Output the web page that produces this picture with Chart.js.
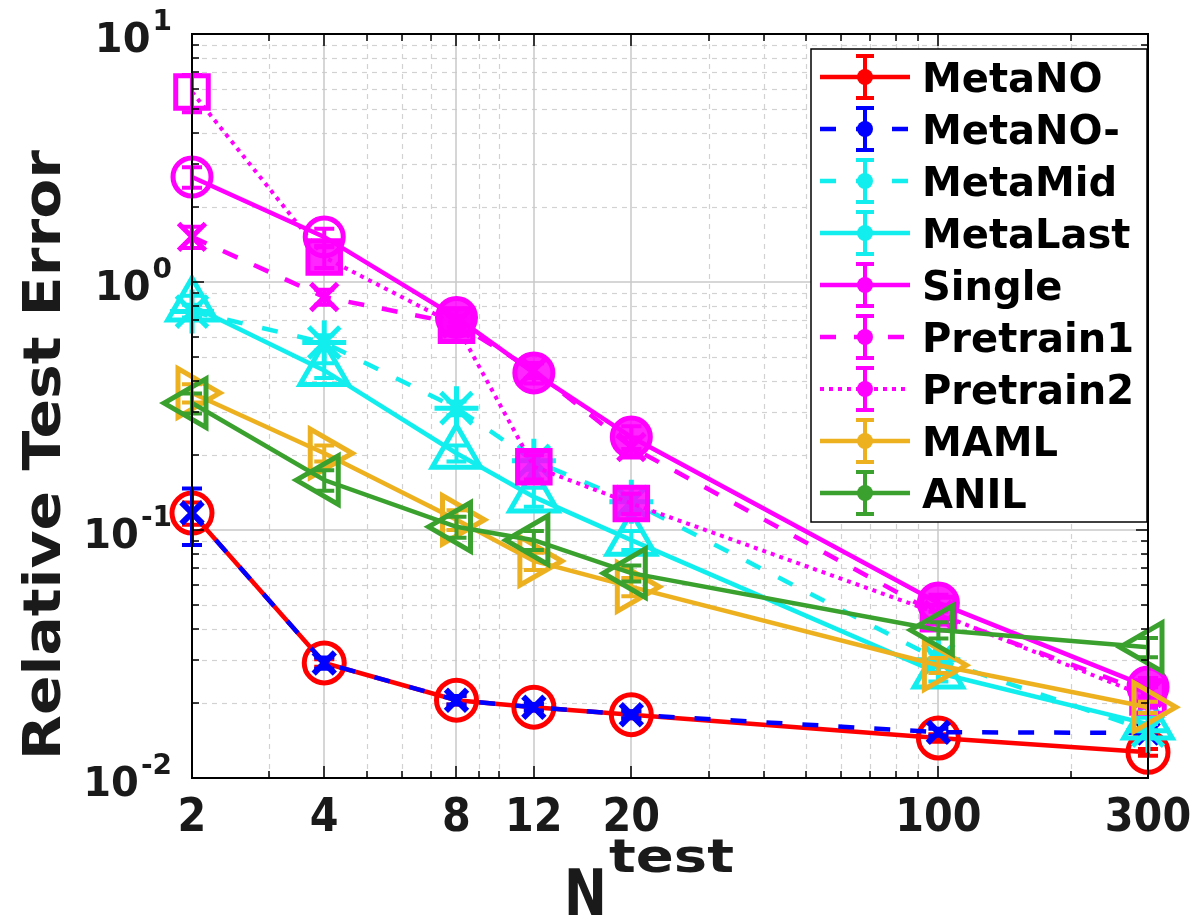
<!DOCTYPE html>
<html><head><meta charset="utf-8">
<script src="https://cdn.jsdelivr.net/npm/chart.js@4.4.1/dist/chart.umd.min.js"></script>
<style>html,body{margin:0;padding:0;background:#fff;}#wrap{width:1200px;height:923px;position:relative;}</style>
</head><body><div id="wrap"><canvas id="c" width="1200" height="923"></canvas></div>
<script>
// ---------------- data ----------------
const nTest = [2, 4, 8, 12, 20, 100, 300];
const xTickLabels = ['2', '4', '8', '12', '20', '100', '300'];
const xMinorTicks = [3, 5, 6, 7, 9, 10, 30, 40, 50, 60, 70, 80, 90, 200];
const yTickValues = [0.01, 0.1, 1, 10];
const yTickExponents = ['-2', '-1', '0', '1'];
const seriesNames = ['MetaNO', 'MetaNO-', 'MetaMid', 'MetaLast', 'Single', 'Pretrain1', 'Pretrain2', 'MAML', 'ANIL'];

const metaNO      = [0.117, 0.0291, 0.0206, 0.0193, 0.0180, 0.0145, 0.0127];
const metaNOminus = [0.117, 0.0291, 0.0206, 0.0193, 0.0180, 0.0153, 0.0152];
const metaMid     = [0.76, 0.57, 0.31, 0.19, 0.13, 0.030, 0.0155];
const metaLast    = [0.80, 0.44, 0.204, 0.136, 0.091, 0.0265, 0.0165];
const single      = [2.65, 1.52, 0.72, 0.43, 0.237, 0.0508, 0.0233];
const pretrain1   = [1.52, 0.87, 0.68, 0.44, 0.216, 0.0455, 0.022];
const pretrain2   = [5.84, 1.26, 0.67, 0.18, 0.128, 0.046, 0.0212];
const maml        = [0.357, 0.204, 0.110, 0.075, 0.059, 0.0285, 0.0193];
const anil        = [0.325, 0.159, 0.103, 0.091, 0.067, 0.0395, 0.0337];

const errMetaNO      = [0.012, 0.001, 0.0008, 0.0006, 0.0006, 0.0005, 0.0004];
const errMetaNOminus = [0.03, 0.0015, 0.0008, 0.0006, 0.0006, 0.0005, 0.0004];
const errMetaMid     = [0.05, 0.04, 0.02, 0.015, 0.01, 0.002, 0.001];
const errMetaLast    = [0.08, 0.03, 0.015, 0.012, 0.008, 0.002, 0.001];
const errSingle      = [0.25, 0.12, 0.06, 0.04, 0.025, 0.004, 0.002];
const errPretrain1   = [0.15, 0.06, 0.05, 0.03, 0.02, 0.004, 0.002];
const errPretrain2   = [1.0, 0.12, 0.06, 0.02, 0.012, 0.004, 0.002];
const errMAML        = [0.03, 0.015, 0.01, 0.006, 0.005, 0.002, 0.001];
const errANIL        = [0.03, 0.015, 0.01, 0.008, 0.005, 0.003, 0.003];

// ---------------- styles ----------------
const FONT = "'DejaVu Sans', 'Liberation Sans', sans-serif";
const C_RED = '#ff0000', C_BLUE = '#0000ff', C_CYAN = '#12eeee', C_MAG = '#ff00ff', C_ORG = '#edb120', C_GRN = '#3aa12e';
const NONE = 'rgba(0,0,0,0)';

const seriesValues = [metaNO, metaNOminus, metaMid, metaLast, single, pretrain1, pretrain2, maml, anil];
const seriesErrors = [errMetaNO, errMetaNOminus, errMetaMid, errMetaLast, errSingle, errPretrain1, errPretrain2, errMAML, errANIL];
const styles = [
  {color: C_RED,  dash: [],       pointStyle: 'circle',   r: 20, rot: 0, bw: 5,  fill: NONE},
  {color: C_BLUE, dash: [16, 20], pointStyle: 'crossRot', r: 15, rot: 0, bw: 6,  fill: NONE},
  {color: C_CYAN, dash: [16, 20], pointStyle: 'star',     r: 22, rot: 0, bw: 5,  fill: NONE},
  {color: C_CYAN, dash: [],       pointStyle: 'triangle', r: 28, rot: 0, bw: 5,  fill: NONE},
  {color: C_MAG,  dash: [],       pointStyle: 'circle',   r: 19, rot: 0, bw: 5,
   fill: [NONE, NONE, 'rgba(255,0,255,0.85)', 'rgba(255,0,255,0.85)', 'rgba(255,0,255,0.85)', 'rgba(255,0,255,0.85)', 'rgba(255,0,255,0.85)']},
  {color: C_MAG,  dash: [16, 18], pointStyle: 'crossRot', r: 19, rot: 0, bw: 5,  fill: NONE},
  {color: C_MAG,  dash: [4, 5],   pointStyle: 'rect',     r: 23, rot: 0, bw: 5,
   fill: [NONE, 'rgba(255,0,255,0.85)', 'rgba(255,0,255,0.85)', 'rgba(255,0,255,0.85)', 'rgba(255,0,255,0.85)', NONE, NONE]},
  {color: C_ORG,  dash: [],       pointStyle: 'triangle', r: 28, rot: 90, bw: 5, fill: NONE},
  {color: C_GRN,  dash: [],       pointStyle: 'triangle', r: 28, rot: -90, bw: 5, fill: NONE}
];

const datasets = seriesNames.map((name, i) => ({
  label: name,
  data: nTest.map((x, j) => ({x: x, y: seriesValues[i][j]})),
  borderColor: styles[i].color,
  backgroundColor: NONE,
  borderWidth: i === 6 ? 4 : 4.5,
  borderDash: styles[i].dash,
  pointStyle: styles[i].pointStyle,
  pointRadius: styles[i].r,
  pointHoverRadius: styles[i].r,
  pointRotation: styles[i].rot,
  pointBorderColor: styles[i].color,
  pointBackgroundColor: styles[i].fill,
  pointBorderWidth: styles[i].bw,
  tension: 0,
  clip: false,
  order: 9 - i
}));

function fitText(ctx, text, x, y, font, scaleX, align) {
  ctx.save();
  ctx.font = font;
  ctx.translate(x, y);
  ctx.scale(scaleX, 1);
  ctx.textAlign = align || 'left';
  ctx.textBaseline = 'alphabetic';
  ctx.fillText(text, 0, 0);
  ctx.restore();
}

const gridPlugin = {
  id: 'matlabGrid',
  beforeDatasetsDraw(chart) {
    const {ctx, chartArea: a, scales: {x, y}} = chart;
    ctx.save();
    ctx.strokeStyle = '#d2d2d2';
    ctx.lineWidth = 1.2;
    ctx.setLineDash([5, 5]);
    xMinorTicks.forEach(v => {
      const px = Math.round(x.getPixelForValue(v)) + 0.5;
      ctx.beginPath(); ctx.moveTo(px, a.top); ctx.lineTo(px, a.bottom); ctx.stroke();
    });
    for (let d = -2; d < 1; d++) {
      for (let m = 2; m <= 9; m++) {
        const py = Math.round(y.getPixelForValue(m * Math.pow(10, d))) + 0.5;
        ctx.beginPath(); ctx.moveTo(a.left, py); ctx.lineTo(a.right, py); ctx.stroke();
      }
    }
    ctx.setLineDash([]);
    ctx.strokeStyle = '#c8c8c8';
    ctx.lineWidth = 1.5;
    nTest.forEach(v => {
      const px = Math.round(x.getPixelForValue(v));
      ctx.beginPath(); ctx.moveTo(px, a.top); ctx.lineTo(px, a.bottom); ctx.stroke();
    });
    yTickValues.forEach(v => {
      const py = Math.round(y.getPixelForValue(v));
      ctx.beginPath(); ctx.moveTo(a.left, py); ctx.lineTo(a.right, py); ctx.stroke();
    });
    ctx.restore();
  }
};

const errorBarPlugin = {
  id: 'errorBars',
  afterDatasetDraw(chart, args) {
    const i = args.index;
    const {ctx, scales: {x, y}} = chart;
    const vals = seriesValues[i], errs = seriesErrors[i];
    ctx.save();
    ctx.strokeStyle = styles[i].color;
    ctx.lineWidth = 4;
    ctx.setLineDash([]);
    nTest.forEach((n, j) => {
      const px = x.getPixelForValue(n);
      const top = y.getPixelForValue(vals[j] + errs[j]);
      const bot = y.getPixelForValue(Math.max(vals[j] - errs[j], 1e-4));
      ctx.beginPath();
      ctx.moveTo(px, top); ctx.lineTo(px, bot);
      ctx.moveTo(px - 10, top); ctx.lineTo(px + 10, top);
      ctx.moveTo(px - 10, bot); ctx.lineTo(px + 10, bot);
      ctx.stroke();
    });
    ctx.restore();
  }
};

const axesPlugin = {
  id: 'matlabAxes',
  afterDraw(chart) {
    const {ctx, chartArea: a, scales: {x, y}} = chart;
    ctx.save();
    ctx.strokeStyle = '#000';
    ctx.lineWidth = 2;
    ctx.setLineDash([]);
    ctx.strokeRect(a.left, a.top, a.right - a.left, a.bottom - a.top);
    ctx.lineWidth = 1.5;
    const tickX = (v, len) => {
      const px = Math.round(x.getPixelForValue(v));
      ctx.beginPath();
      ctx.moveTo(px, a.bottom); ctx.lineTo(px, a.bottom - len);
      ctx.moveTo(px, a.top); ctx.lineTo(px, a.top + len);
      ctx.stroke();
    };
    const tickY = (v, len) => {
      const py = Math.round(y.getPixelForValue(v));
      ctx.beginPath();
      ctx.moveTo(a.left, py); ctx.lineTo(a.left + len, py);
      ctx.moveTo(a.right, py); ctx.lineTo(a.right - len, py);
      ctx.stroke();
    };
    nTest.forEach(v => tickX(v, 12));
    xMinorTicks.forEach(v => tickX(v, 7));
    yTickValues.forEach(v => tickY(v, 12));
    for (let d = -2; d < 1; d++) for (let m = 2; m <= 9; m++) tickY(m * Math.pow(10, d), 7);

    ctx.fillStyle = '#1a1a1a';
    nTest.forEach((v, j) => {
      fitText(ctx, xTickLabels[j], x.getPixelForValue(v), 831, `bold 47px ${FONT}`, 0.88, 'center');
    });
    yTickValues.forEach((v, j) => {
      const py = y.getPixelForValue(v);
      ctx.font = `bold 28px ${FONT}`;
      const supW = ctx.measureText(yTickExponents[j]).width;
      const right = 172;
      fitText(ctx, yTickExponents[j], right - supW, py - 4, `bold 28px ${FONT}`, 1, 'left');
      fitText(ctx, '10', right - supW - 2, py + 18, `bold 40px ${FONT}`, 1, 'right');
    });

    ctx.save();
    ctx.translate(60, 455);
    ctx.rotate(-Math.PI / 2);
    ctx.font = `bold 52px ${FONT}`;
    const tw = ctx.measureText('Relative Test Error').width;
    ctx.scale(610 / tw, 1);
    ctx.textAlign = 'center';
    ctx.fillText('Relative Test Error', 0, 0);
    ctx.restore();

    fitText(ctx, 'N', 564, 915, `bold 64px ${FONT}`, 0.8, 'left');
    ctx.font = `bold 46px ${FONT}`;
    const testW = ctx.measureText('test').width;
    fitText(ctx, 'test', 609, 872, `bold 46px ${FONT}`, 125 / testW, 'left');

    // legend
    const L = {x0: 811, y0: 49, x1: 1147, y1: 522};
    ctx.fillStyle = '#fff';
    ctx.fillRect(L.x0, L.y0, L.x1 - L.x0, L.y1 - L.y0);
    ctx.strokeStyle = '#000';
    ctx.lineWidth = 1.5;
    ctx.strokeRect(L.x0, L.y0, L.x1 - L.x0, L.y1 - L.y0);
    seriesNames.forEach((name, i) => {
      const cy = 77 + 52 * i;
      const col = styles[i].color;
      ctx.strokeStyle = col;
      ctx.lineWidth = i === 6 ? 4 : 4.5;
      ctx.setLineDash(styles[i].dash);
      ctx.beginPath(); ctx.moveTo(820, cy); ctx.lineTo(910, cy); ctx.stroke();
      ctx.setLineDash([]);
      ctx.lineWidth = 4;
      ctx.beginPath();
      ctx.moveTo(865, cy - 21); ctx.lineTo(865, cy + 21);
      ctx.moveTo(856, cy - 21); ctx.lineTo(874, cy - 21);
      ctx.moveTo(856, cy + 21); ctx.lineTo(874, cy + 21);
      ctx.stroke();
      ctx.fillStyle = col;
      ctx.beginPath(); ctx.arc(865, cy, 8, 0, Math.PI * 2); ctx.fill();
      ctx.fillStyle = '#000';
      fitText(ctx, name, 922, cy + 15, `bold 40px ${FONT}`, 1, 'left');
    });
    ctx.restore();
  }
};

new Chart(document.getElementById('c'), {
  type: 'line',
  data: {datasets: datasets},
  options: {
    responsive: false,
    animation: false,
    devicePixelRatio: 1,
    layout: {padding: {left: 192, right: 52, top: 34, bottom: 145}},
    plugins: {legend: {display: false}, tooltip: {enabled: false}},
    scales: {
      x: {type: 'logarithmic', min: 2, max: 300, display: false},
      y: {type: 'logarithmic', min: 0.01, max: 10, display: false}
    }
  },
  plugins: [gridPlugin, errorBarPlugin, axesPlugin]
});
</script></body></html>
